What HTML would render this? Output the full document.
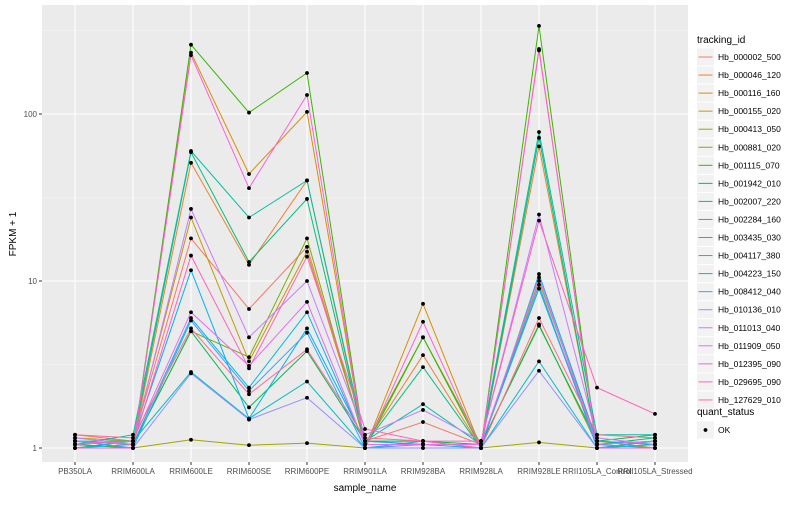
<!DOCTYPE html>
<html><head><meta charset="utf-8"><style>
body{margin:0;background:#fff;font-family:"Liberation Sans",sans-serif}
svg text{font-family:"Liberation Sans",sans-serif}
</style></head><body>
<svg id="chart" width="800" height="500" xmlns="http://www.w3.org/2000/svg"></svg>
<script>
const categories=["PB350LA","RRIM600LA","RRIM600LE","RRIM600SE","RRIM600PE","RRIM901LA","RRIM928BA","RRIM928LA","RRIM928LE","RRII105LA_Control","RRII105LA_Stressed"];
const seriesNames=["Hb_000002_500","Hb_000046_120","Hb_000116_160","Hb_000155_020","Hb_000413_050","Hb_000881_020","Hb_001115_070","Hb_001942_010","Hb_002007_220","Hb_002284_160","Hb_003435_030","Hb_004117_380","Hb_004223_150","Hb_008412_040","Hb_010136_010","Hb_011013_040","Hb_011909_050","Hb_012395_090","Hb_029695_090","Hb_127629_010"];
const colors=["#F8766D","#EA8331","#D89000","#C09B00","#A3A500","#7CAE00","#39B600","#00BB4E","#00BF7D","#00C1A3","#00BFC4","#00BAE0","#00B0F6","#35A2FF","#9590FF","#C77CFF","#E76BF3","#FA62DB","#FF62BC","#FF6C91"];
const s00=[1.2,1.1,18,6.8,16,1.1,1.43,1.05,9,1.1,1.05];
const s01=[1.1,1.05,51,12.5,40,1.05,3.6,1.0,64,1.05,1.1];
const s02=[1.05,1.0,233,43.7,103,1.0,7.3,1.0,245,1.0,1.05];
const s03=[1.15,1.1,24,3.3,15,1.1,1.05,1.05,10,1.1,1.0];
const s04=[1.0,1.0,1.12,1.04,1.07,1.0,1.0,1.0,1.08,1.0,1.0];
const s05=[1.1,1.05,5.0,3.5,18,1.05,4.6,1.05,5.5,1.05,1.1];
const s06=[1.05,1.0,260,102,176,1.0,4.6,1.0,337,1.0,1.1];
const s07=[1.1,1.05,5.0,1.75,3.8,1.1,1.1,1.05,5.4,1.1,1.2];
const s08=[1.0,1.1,59,13,31,1.05,3.05,1.0,72,1.05,1.15];
const s09=[1.05,1.2,60,24,40,1.1,1.83,1.05,78,1.2,1.2];
const s10=[1.1,1.1,2.85,1.5,2.5,1.0,1.1,1.0,3.3,1.0,1.05];
const s11=[1.0,1.05,6,2.3,6.5,1.05,1.05,1.05,9,1.05,1.0];
const s12=[1.05,1.1,11.6,1.5,5.2,1.1,1.05,1.0,11,1.1,1.05];
const s13=[1.1,1.0,5.8,2.2,4.9,1.0,1.05,1.05,9.5,1.0,1.1];
const s14=[1.0,1.0,2.8,1.48,2.0,1.0,1.0,1.0,2.9,1.0,1.0];
const s15=[1.15,1.05,27,4.6,10,1.2,1.69,1.1,25,1.15,1.05];
const s16=[1.05,1.1,6.5,3.1,7.5,1.05,1.05,1.05,10.5,1.05,1.1];
const s17=[1.0,1.0,225,36,130,1.0,5.7,1.0,240,1.0,1.0];
const s18=[1.1,1.05,14.2,3.0,14,1.3,1.1,1.1,23,2.3,1.6];
const s19=[1.2,1.15,5.2,2.1,3.9,1.15,1.1,1.0,6,1.2,1.15];
const seriesValues=[s00,s01,s02,s03,s04,s05,s06,s07,s08,s09,s10,s11,s12,s13,s14,s15,s16,s17,s18,s19];
const yTicks=[1,10,100];
const yTickLabels=["1","10","100"];

const NS="http://www.w3.org/2000/svg";
const svg=document.getElementById('chart');
const P={l:42,r:688,t:5,b:462};
function xs(i){return P.l+33+i*(P.r-P.l-66)/(categories.length-1);}
function ys(v){return 448-167*Math.log10(v);}
function mk(tag,attrs,parent){const e=document.createElementNS(NS,tag);for(const k in attrs)e.setAttribute(k,attrs[k]);(parent||svg).appendChild(e);return e;}

const panel=mk('rect',{x:P.l,y:P.t,width:P.r-P.l,height:P.b-P.t,fill:'#EBEBEB'});


[0.5,1.5,2.5].forEach(d=>{const y=448-167*d;if(y>P.t){const g=mk('line',{x1:P.l,x2:P.r,y1:y,y2:y,stroke:'#F5F5F5','stroke-width':0.6});}});
yTicks.forEach((t,i)=>{const y=ys(t);
 const g=mk('line',{x1:P.l,x2:P.r,y1:y,y2:y,stroke:'#fff','stroke-width':1.1});
 
 
 mk('line',{x1:P.l-3,x2:P.l,y1:y,y2:y,stroke:'#333','stroke-width':1});
 const tx=mk('text',{x:P.l-5,y:y+3,'text-anchor':'end','font-size':8,fill:'#4D4D4D'});tx.textContent=yTickLabels[i];
 
 
});
categories.forEach((c,i)=>{const x=xs(i);
 const g=mk('line',{x1:x,x2:x,y1:P.t,y2:P.b,stroke:'#fff','stroke-width':1.1});
 
 
 mk('line',{x1:x,x2:x,y1:P.b,y2:P.b+3,stroke:'#333','stroke-width':1});
 const tx=mk('text',{x:x,y:P.b+12,'text-anchor':'middle','font-size':8,fill:'#4D4D4D'});tx.textContent=c;
 
 
});
seriesValues.forEach((vals,si)=>{
 const d=vals.map((v,i)=>(i?'L':'M')+xs(i).toFixed(1)+','+ys(v).toFixed(1)).join(' ');
 const p=mk('path',{d:d,fill:'none',stroke:colors[si],'stroke-width':1});
 
 
});
seriesValues.forEach((vals,si)=>{vals.forEach((v,i)=>{
 const r=mk('circle',{cx:xs(i),cy:ys(v),r:1.9,fill:'#000'});
 
 
});});
const xt=mk('text',{x:(P.l+P.r)/2,y:491,'text-anchor':'middle','font-size':10,fill:'#000'});xt.textContent='sample_name';


const yt=mk('text',{x:0,y:0,'text-anchor':'middle','font-size':10,fill:'#000',transform:'translate(16,234) rotate(-90)'});yt.textContent='FPKM + 1';


const lt=mk('text',{x:697,y:43,'font-size':10,fill:'#000'});lt.textContent='tracking_id';


seriesNames.forEach((n,i)=>{const cy=57+i*18.05;
 const g=mk('g',{});
 
 
 mk('rect',{x:697,y:cy-8.5,width:17,height:17,fill:'#F2F2F2'},g);
 mk('line',{x1:698.5,x2:712.5,y1:cy,y2:cy,stroke:colors[i],'stroke-width':1},g);
 const t=mk('text',{x:718,y:cy+3,'font-size':8.5,fill:'#000'},g);t.textContent=n;
});
const qt=mk('text',{x:697,y:415,'font-size':10,fill:'#000'});qt.textContent='quant_status';


const qg=mk('g',{});


mk('rect',{x:697,y:421.5,width:17,height:17,fill:'#F2F2F2'},qg);
mk('circle',{cx:705.5,cy:430,r:1.9,fill:'#000'},qg);
const ok=mk('text',{x:718,y:433,'font-size':8.5,fill:'#000'},qg);ok.textContent='OK';
</script>
</body></html>
